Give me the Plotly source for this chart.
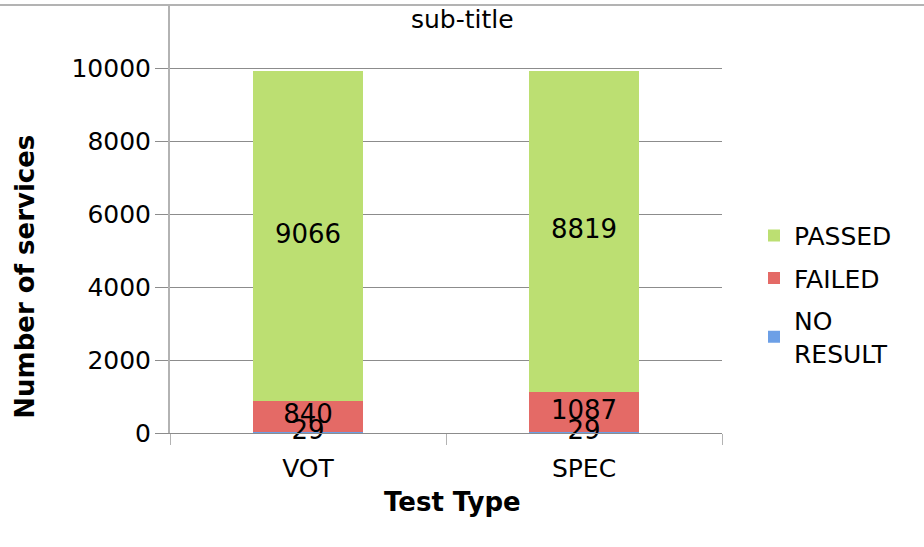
import plotly.graph_objects as go

categories = ["VOT", "SPEC"]
no_result = [29, 29]
failed = [840, 1087]
passed = [9066, 8819]

series_names = ["NO<br>RESULT", "FAILED", "PASSED"]
series_values = [no_result, failed, passed]
series_colors = ["#6c9fe6", "#e46a66", "#bcdf72"]

W, H = 924, 547
L, R, T, B = 170, 202, 6, 113.5
plot_h = H - T - B
plot_w = W - L - R
y_max = 11712

def px_x(x):
    return (x - L) / plot_w

def px_y(y):
    return (H - B - y) / plot_h

FONT = "DejaVu Sans"

fig = go.Figure()
n = len(series_names)
for i, (name, vals, col) in enumerate(zip(series_names, series_values, series_colors)):
    fig.add_trace(go.Bar(
        x=categories, y=vals, name=name,
        marker=dict(color=col, line=dict(width=0)),
        legendgroup=f"g{i}", legendrank=n - i,
        hoverinfo="x+y+name",
    ))

# value labels, drawn on top of all bars, at the middle of each stacked segment
label_x, label_y, label_t = [], [], []
for ci, cat in enumerate(categories):
    base = 0
    for vals in series_values:
        v = vals[ci]
        label_x.append(cat)
        label_y.append(base + v / 2)
        label_t.append(str(v))
        base += v
fig.add_trace(go.Scatter(
    x=label_x, y=label_y, text=label_t, mode="text",
    textposition="middle center",
    textfont=dict(family=FONT, size=26, color="black"),
    showlegend=False, hoverinfo="skip", cliponaxis=False,
))

fig.update_layout(
    width=W, height=H,
    margin=dict(l=L, r=R, t=T, b=B, pad=0, autoexpand=False),
    barmode="stack", bargap=0.6,
    plot_bgcolor="white", paper_bgcolor="white",
    font=dict(family=FONT, size=25, color="black"),
    showlegend=True,
    legend=dict(
        x=px_x(754), y=px_y(213), xanchor="left", yanchor="top",
        font=dict(family=FONT, size=25, color="black"),
        traceorder="grouped", tracegroupgap=7,
        bgcolor="rgba(0,0,0,0)",
    ),
    xaxis=dict(
        type="category", showgrid=False, automargin=False,
        showline=True, linecolor="#8c8c8c", linewidth=1,
        ticks="outside", tickson="boundaries", ticklen=11, tickcolor="#b3b3b3",
        tickfont=dict(family=FONT, size=25, color="black"),
        ticklabelstandoff=13,
        zeroline=False,
    ),
    yaxis=dict(
        range=[0, y_max], tickvals=[0, 2000, 4000, 6000, 8000, 10000],
        tickformat="d", automargin=False,
        showgrid=True, gridcolor="#8c8c8c", gridwidth=1,
        showline=True, linecolor="#b3b3b3", linewidth=2,
        ticks="outside", ticklen=13, tickcolor="#8c8c8c",
        tickfont=dict(family=FONT, size=25, color="black"),
        ticklabelstandoff=-1,
        zeroline=False,
    ),
    annotations=[
        dict(text="sub-title", x=px_x(462), y=px_y(20), xref="paper", yref="paper",
             showarrow=False, xanchor="center", yanchor="middle",
             font=dict(family=FONT, size=25, color="black")),
        dict(text="<b>Number of services</b>", x=px_x(25), y=px_y(277), xref="paper", yref="paper",
             showarrow=False, xanchor="center", yanchor="middle", textangle=-90,
             font=dict(family=FONT, size=26, color="black")),
        dict(text="<b>Test Type</b>", x=px_x(452), y=px_y(503), xref="paper", yref="paper",
             showarrow=False, xanchor="center", yanchor="middle",
             font=dict(family=FONT, size=26, color="black")),
    ],
    shapes=[
        dict(type="line", xref="paper", yref="paper",
             x0=px_x(0), x1=px_x(924), y0=px_y(5), y1=px_y(5),
             line=dict(color="#b3b3b3", width=2)),
    ],
)

fig.write_html("out.html", config={"displayModeBar": False},
               post_script="document.body.style.margin='0px';")
